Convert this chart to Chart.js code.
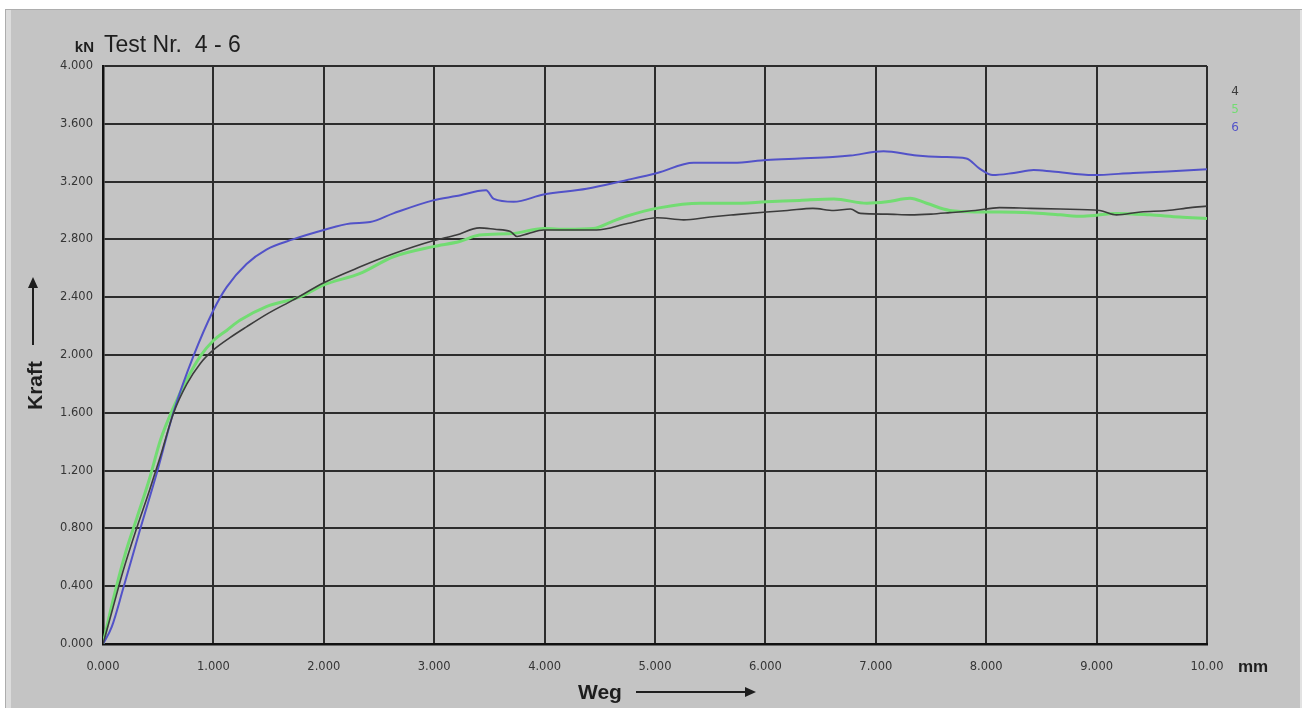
<!DOCTYPE html>
<html>
<head>
<meta charset="utf-8">
<title>Test Nr. 4 - 6</title>
<script src="https://cdn.jsdelivr.net/npm/chart.js@4.4.1/dist/chart.umd.min.js"></script>
<style>
  html, body { margin: 0; padding: 0; background: #ffffff; }
  canvas { display: block; }
</style>
</head>
<body>
<canvas id="c" width="1306" height="708"></canvas>
<script>
// Weg (mm) and Kraft (kN) samples for each test
const weg4 = [0, 0.09, 0.18, 0.30, 0.42, 0.52, 0.64, 0.76, 0.88, 1.0, 1.15, 1.30, 1.50, 1.72, 2.0, 2.33, 2.63, 2.99, 3.2, 3.41, 3.55, 3.69, 3.75, 3.85, 3.99, 4.2, 4.47, 4.75, 5.02, 5.26, 5.5, 5.71, 6.01, 6.2, 6.43, 6.62, 6.77, 6.86, 7.1, 7.31, 7.5, 7.67, 7.9, 8.12, 8.4, 8.67, 9.03, 9.18, 9.4, 9.64, 9.85, 10.0];
const kraft4 = [0, 0.25, 0.50, 0.79, 1.06, 1.30, 1.60, 1.80, 1.94, 2.035, 2.12, 2.195, 2.29, 2.38, 2.50, 2.61, 2.70, 2.79, 2.83, 2.88, 2.87, 2.855, 2.82, 2.84, 2.865, 2.865, 2.865, 2.91, 2.95, 2.935, 2.955, 2.97, 2.99, 3.0, 3.015, 3.0, 3.01, 2.98, 2.975, 2.97, 2.975, 2.985, 3.0, 3.02, 3.015, 3.01, 3.0, 2.97, 2.99, 3.0, 3.02, 3.03];

const weg5 = [0, 0.09, 0.2, 0.31, 0.42, 0.52, 0.64, 0.76, 0.88, 1.0, 1.12, 1.24, 1.48, 1.78, 2.0, 2.33, 2.63, 2.99, 3.23, 3.41, 3.7, 3.99, 4.2, 4.44, 4.6, 4.74, 5.05, 5.41, 5.7, 6.01, 6.31, 6.62, 6.92, 7.1, 7.31, 7.46, 7.67, 7.9, 8.12, 8.4, 8.67, 8.88, 9.18, 9.48, 9.75, 10.0];
const kraft5 = [0, 0.30, 0.62, 0.88, 1.14, 1.41, 1.64, 1.83, 1.99, 2.10, 2.17, 2.24, 2.335, 2.40, 2.485, 2.565, 2.68, 2.75, 2.785, 2.83, 2.84, 2.875, 2.87, 2.875, 2.92, 2.96, 3.02, 3.05, 3.05, 3.06, 3.07, 3.08, 3.05, 3.06, 3.085, 3.05, 3.00, 2.99, 2.99, 2.985, 2.97, 2.96, 2.98, 2.97, 2.955, 2.945];

const weg6 = [0, 0.08, 0.184, 0.335, 0.486, 0.637, 0.818, 1.0, 1.12, 1.30, 1.48, 1.72, 2.0, 2.24, 2.42, 2.63, 2.99, 3.2, 3.47, 3.54, 3.72, 3.99, 4.38, 4.74, 5.02, 5.35, 5.71, 6.01, 6.31, 6.61, 6.77, 7.07, 7.37, 7.6, 7.82, 7.94, 8.06, 8.25, 8.43, 8.6, 8.97, 9.33, 9.64, 10.0];
const kraft6 = [0, 0.12, 0.387, 0.79, 1.18, 1.60, 1.99, 2.31, 2.47, 2.63, 2.73, 2.80, 2.865, 2.91, 2.92, 2.98, 3.07, 3.10, 3.14, 3.08, 3.06, 3.11, 3.15, 3.21, 3.26, 3.33, 3.33, 3.35, 3.36, 3.37, 3.38, 3.41, 3.38, 3.37, 3.36, 3.29, 3.245, 3.26, 3.28, 3.27, 3.245, 3.26, 3.27, 3.285];

const seriesNames = ['4', '5', '6'];
const xTickLabels = ['0.000', '1.000', '2.000', '3.000', '4.000', '5.000', '6.000', '7.000', '8.000', '9.000', '10.00'];
const yTickLabels = ['0.000', '0.400', '0.800', '1.200', '1.600', '2.000', '2.400', '2.800', '3.200', '3.600', '4.000'];

const toPoints = (xs, ys) => xs.map((x, i) => ({ x: x, y: ys[i] }));

const COLORS = { s4: '#3c3c3c', s5: '#72dc72', s6: '#5252c8' };
const PANEL = '#c4c4c4';

// Panel frame behind everything
const panelPlugin = {
  id: 'panel',
  beforeDraw(chart) {
    const ctx = chart.ctx;
    ctx.save();
    ctx.fillStyle = '#ffffff';
    ctx.fillRect(0, 0, chart.width, chart.height);
    ctx.fillStyle = PANEL;
    ctx.fillRect(5, 9, 1297, 699);
    ctx.fillStyle = '#dcdcdc';
    ctx.fillRect(6, 10, 5, 698);
    ctx.fillStyle = '#adadad';
    ctx.fillRect(5, 9, 1297, 1);
    ctx.fillRect(5, 9, 1, 699);
    ctx.fillStyle = '#e2e2e2';
    ctx.fillRect(1300, 10, 2, 698);
    ctx.restore();
  }
};

// Headings, axis captions with arrows, unit and series key
const textPlugin = {
  id: 'texts',
  afterDraw(chart) {
    const ctx = chart.ctx;
    const area = chart.chartArea;
    ctx.save();
    ctx.fillStyle = '#1e1e1e';
    ctx.textBaseline = 'alphabetic';

    ctx.font = 'bold 15px "Liberation Sans", Arial, sans-serif';
    ctx.textAlign = 'right';
    ctx.fillText('kN', area.left - 9, 52);

    ctx.font = '23px "Liberation Sans", Arial, sans-serif';
    ctx.textAlign = 'left';
    ctx.fillText('Test Nr.  4 - 6', area.left + 1, 52);

    // Weg caption
    ctx.font = 'bold 21px "Liberation Sans", Arial, sans-serif';
    ctx.fillText('Weg', 578, 699);
    ctx.strokeStyle = '#1e1e1e';
    ctx.lineWidth = 2;
    ctx.beginPath();
    ctx.moveTo(636, 692);
    ctx.lineTo(748, 692);
    ctx.stroke();
    ctx.beginPath();
    ctx.moveTo(756, 692);
    ctx.lineTo(745, 687);
    ctx.lineTo(745, 697);
    ctx.closePath();
    ctx.fill();

    // Kraft caption, vertical
    ctx.save();
    ctx.translate(42, 410);
    ctx.rotate(-Math.PI / 2);
    ctx.textAlign = 'left';
    ctx.fillText('Kraft', 0, 0);
    ctx.restore();
    ctx.beginPath();
    ctx.moveTo(33, 345);
    ctx.lineTo(33, 286);
    ctx.stroke();
    ctx.beginPath();
    ctx.moveTo(33, 277);
    ctx.lineTo(28, 288);
    ctx.lineTo(38, 288);
    ctx.closePath();
    ctx.fill();

    // unit on the x axis
    ctx.font = 'bold 17px "Liberation Sans", Arial, sans-serif';
    ctx.textAlign = 'left';
    ctx.fillText('mm', 1238, 672);

    // series key
    ctx.font = '12px "DejaVu Sans", sans-serif';
    ctx.textAlign = 'center';
    ctx.textBaseline = 'middle';
    chart.data.datasets.forEach((ds, i) => {
      ctx.fillStyle = ds.borderColor;
      ctx.fillText(ds.label, 1235, 92 + i * 18);
    });
    ctx.restore();
  }
};

const tickFont = { family: '"DejaVu Sans", sans-serif', size: 11.5 };

new Chart(document.getElementById('c'), {
  type: 'scatter',
  data: {
    datasets: [
      {
        label: seriesNames[0],
        data: toPoints(weg4, kraft4),
        borderColor: COLORS.s4,
        borderWidth: 1.6,
        showLine: true,
        pointRadius: 0,
        cubicInterpolationMode: 'monotone',
        order: 0
      },
      {
        label: seriesNames[1],
        data: toPoints(weg5, kraft5),
        borderColor: COLORS.s5,
        borderWidth: 3,
        showLine: true,
        pointRadius: 0,
        cubicInterpolationMode: 'monotone',
        order: 2
      },
      {
        label: seriesNames[2],
        data: toPoints(weg6, kraft6),
        borderColor: COLORS.s6,
        borderWidth: 2,
        showLine: true,
        pointRadius: 0,
        cubicInterpolationMode: 'monotone',
        order: 1
      }
    ]
  },
  options: {
    responsive: false,
    animation: false,
    devicePixelRatio: 1,
    layout: { padding: { left: 0, right: 99, top: 66, bottom: 0 } },
    plugins: {
      legend: { display: false },
      tooltip: { enabled: false },
      title: { display: false }
    },
    scales: {
      x: {
        type: 'linear',
        min: 0,
        max: 10,
        afterFit(scale) { scale.height = 64; },
        ticks: {
          stepSize: 1,
          color: '#353535',
          padding: 16,
          maxRotation: 0,
          font: tickFont,
          callback: (v, i) => xTickLabels[i]
        },
        grid: { color: '#2c2c2c', lineWidth: 2, drawTicks: false },
        border: { display: true, color: '#111111', width: 2.5 }
      },
      y: {
        type: 'linear',
        min: 0,
        max: 4,
        afterFit(scale) { scale.width = 103; },
        ticks: {
          stepSize: 0.4,
          color: '#353535',
          padding: 10,
          font: tickFont,
          callback: (v, i) => yTickLabels[i]
        },
        grid: { color: '#2c2c2c', lineWidth: 2, drawTicks: false },
        border: { display: true, color: '#111111', width: 2.5 }
      }
    }
  },
  plugins: [panelPlugin, textPlugin]
});
</script>
</body>
</html>
